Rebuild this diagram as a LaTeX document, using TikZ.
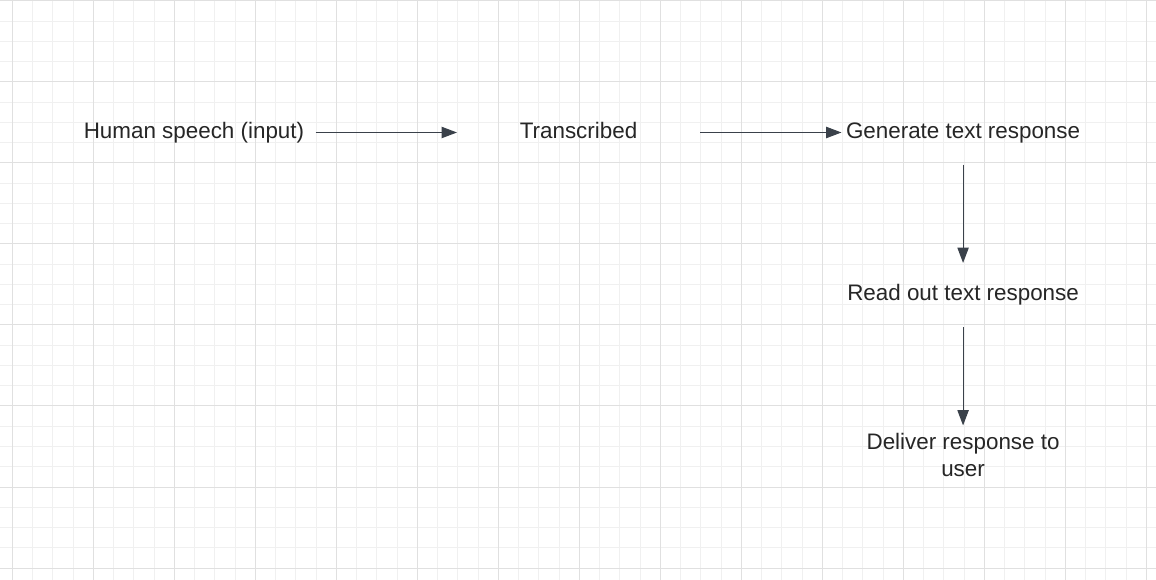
\documentclass[tikz,border=0pt]{standalone}
\usepackage{fontspec}
\setmainfont{Liberation Sans}
\usepackage{tikz}
\usetikzlibrary{arrows.meta, positioning}
\definecolor{gridminor}{RGB}{240, 240, 240}
\definecolor{gridmajor}{RGB}{224, 224, 224}
\definecolor{arrowgray}{RGB}{58, 65, 74}
\definecolor{textdark}{RGB}{38, 38, 38}
\tikzset{
  >=Triangle,
  flowarrow/.style={-{Triangle[length=11.5pt, width=8.5pt]}, line width=0.8pt, arrowgray, shorten <=1pt, shorten >=1pt},
  textbox/.style={minimum width=180pt, minimum height=45.75pt, inner sep=0pt, align=center, text=textdark,
    text height=12pt, text depth=3.5pt, font=\fontsize{16.8}{20.25}\selectfont}
}

\begin{document}
\begin{tikzpicture}[x=0.75pt, y=-0.75pt]
    \useasboundingbox (0,0) rectangle (1156,580);
    \fill[white] (0,0) rectangle (1156,580);
    % grid
    \foreach \k in {0,...,56} {
        \pgfmathsetmacro{\gx}{12.3+20.25*\k}
        \draw[gridminor, line width=0.75pt] (\gx,0) -- (\gx,580);
    }
    \foreach \k in {0,...,28} {
        \pgfmathsetmacro{\gy}{1+20.25*\k}
        \draw[gridminor, line width=0.75pt] (0,\gy) -- (1156,\gy);
    }
    \foreach \k in {0,4,...,56} {
        \pgfmathsetmacro{\gx}{12.3+20.25*\k}
        \draw[gridmajor, line width=0.75pt] (\gx,0) -- (\gx,580);
    }
    \foreach \k in {0,4,...,28} {
        \pgfmathsetmacro{\gy}{1+20.25*\k}
        \draw[gridmajor, line width=0.75pt] (0,\gy) -- (1156,\gy);
    }

    \node (speech) [textbox] at (194,132.5) {Human speech (input)};
    \node (transcribed) [textbox, right=108pt of speech] {Transcribed};
    \node (generate) [textbox, right=108pt of transcribed] {Generate text response};
    \node (readout) [textbox, below=75.75pt of generate] {Read out text response};
    \node (deliver) [textbox, text height=32.25pt, below=75.75pt of readout] {Deliver response to\\user};

    \draw[flowarrow] (speech) -- (transcribed);
    \draw[flowarrow] (transcribed) -- (generate);
    \draw[flowarrow] (generate) -- (readout);
    \draw[flowarrow] (readout) -- (deliver);
\end{tikzpicture}
\end{document}
